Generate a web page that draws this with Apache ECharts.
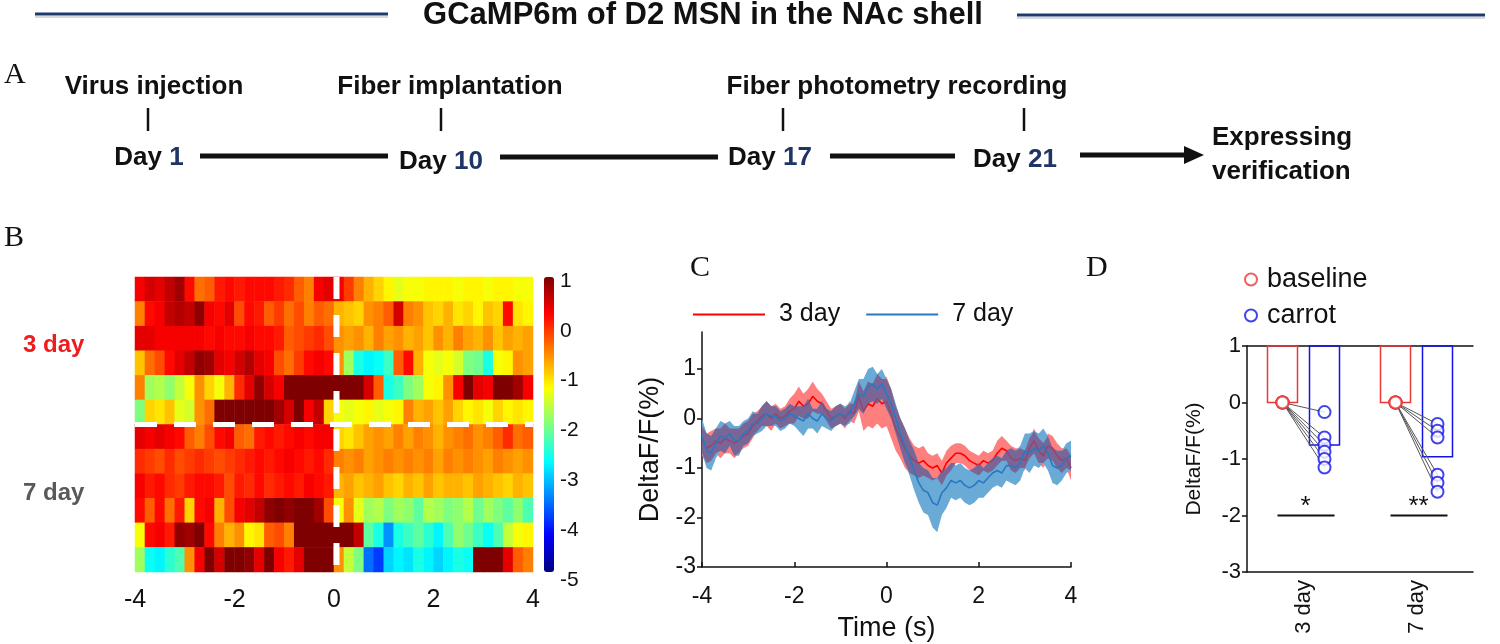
<!DOCTYPE html>
<html><head><meta charset="utf-8">
<script src="https://cdn.jsdelivr.net/npm/echarts@6/dist/echarts.min.js"></script>
<style>html,body{margin:0;padding:0;background:#fff}#main{width:1500px;height:644px}</style>
</head><body><div id="main"></div>
<script>
// ---------------- DATA ----------------
// Panel A timeline
const timelineEvents = ['Virus injection', 'Fiber implantation', 'Fiber photometry recording'];
const timelineDays = [1, 10, 17, 21];

// Panel B heatmap: 40 bins of 0.2 s from -4 s to 4 s, rows = trials
const heatTickLabels = [-4, -2, 0, 2, 4];
const colorbarTicks = [1, 0, -1, -2, -3, -4, -5];
const day3Trial1 = [0.3,0.5,0.4,0.6,0.8,0.2,-0.4,-0.3,0.1,0.2, 0.1,0.2,0.2,0.2,0.1,0.0,-0.3,-0.5,0.3,0.4, 0.3,-0.1,-0.5,-0.8,-1.0,-1.2,-1.4,-1.3,-1.3,-1.2, -1.2,-1.2,-1.3,-1.2,-1.2,-1.3,-1.2,-1.2,-1.3,-1.3];
const day3Trial2 = [-0.5,0.2,0.3,0.6,0.7,0.6,0.9,0.3,0.2,0.4, -0.2,0.2,0.1,-0.3,-0.1,-0.4,-0.2,-0.5,-0.3,-0.4, -0.8,-0.9,-1.0,-0.6,-0.5,-0.3,0.5,-0.5,-0.6,-0.9, -1.0,-0.8,-1.1,-1.0,-1.2,-0.9,-1.0,0.2,-1.1,-1.2];
const day3Trial3 = [0.4,0.4,0.3,0.3,0.3,0.3,0.3,0.2,0.3,0.2, 0.2,0.3,0.2,0.2,0.1,-0.3,-0.2,-0.1,0.0,-0.2, -0.6,-0.7,-0.6,-0.8,-0.5,-0.7,-0.6,-0.8,-0.7,-0.9, -0.6,-0.8,-0.5,-0.7,-0.8,-0.6,-0.9,-0.7,-0.8,-0.7];
const day3Trial4 = [-0.9,-0.4,-0.2,0.2,0.4,0.6,0.9,0.8,0.4,0.3, 0.5,0.7,0.4,0.3,-0.2,-0.4,-0.1,0.2,0.3,0.2, -0.6,-1.8,-2.6,-2.8,-2.7,-2.4,-0.3,0.2,-0.8,-1.3, -1.4,-1.3,-1.5,-2.0,-2.1,-2.6,-1.3,-1.2,-0.6,-0.7];
const day3Trial5 = [-0.5,-1.8,-1.7,-1.9,-1.6,-1.3,-0.6,-1.0,-1.3,-0.8, 0.0,0.4,0.9,0.5,0.3,1.0,1.2,1.2,1.1,1.2, 1.1,1.1,1.1,0.5,-0.3,-2.6,-2.4,-2.0,-1.8,-1.3, -1.2,-0.6,0.3,1.0,0.4,0.3,1.0,1.1,0.8,0.3];
const day3Trial6 = [-2.0,-1.0,-1.1,-0.9,-1.4,-1.5,-0.6,-0.4,1.1,1.2, 1.2,1.1,1.2,1.1,0.8,0.5,1.1,0.3,0.6,-1.0, -1.3,-1.4,-1.3,-1.2,-1.4,-1.3,-1.2,-0.5,-0.8,-0.7, -0.9,-0.7,-1.0,-1.2,-1.1,-1.3,-1.0,-1.2,-1.1,-1.2];
const day7Trial1 = [0.4,0.3,0.4,0.3,0.2,-0.3,-0.5,-0.2,0.2,0.3, -0.3,-0.4,0.1,0.2,0.1,0.2,0.3,0.2,0.3,0.3, -1.0,-1.1,-0.9,-0.7,-0.6,-0.7,-0.5,-0.7,-0.5,-0.6, -0.8,-0.6,-0.5,-0.4,-0.6,-0.5,-0.3,0.0,-0.4,-0.3];
const day7Trial2 = [0.0,-0.1,-0.2,0.0,-0.2,-0.1,0.0,-0.1,-0.2,-0.1, 0.0,0.1,0.2,0.1,0.2,0.3,0.2,0.1,0.2,0.0, -0.5,-0.6,-0.5,-0.7,-0.6,-0.5,-0.6,-0.5,-0.6,-0.5, -0.7,-0.5,-0.6,-0.5,-0.6,-0.7,-0.5,-0.6,-0.7,-0.6];
const day7Trial3 = [0.3,0.1,0.2,0.0,-0.1,0.1,0.2,0.2,0.1,-0.2, 0.1,0.0,0.2,0.0,0.1,0.2,0.1,0.3,0.2,0.1, -0.8,-0.7,-0.9,-0.8,-0.7,-0.9,-1.0,-0.8,-0.9,-0.7, -0.9,-0.8,-0.8,-0.9,-0.7,-0.8,-0.9,-1.0,-0.8,-0.9];
const day7Trial4 = [0.2,-0.3,0.2,-0.4,0.1,-1.0,0.2,0.3,-0.8,-0.2, 0.3,0.4,0.6,0.9,1.0,0.9,1.1,1.0,0.8,-0.2, -1.3,-0.6,-1.4,-1.8,-1.7,-2.0,-1.8,-1.9,-2.2,-1.7, -1.8,-2.0,-1.9,-1.7,-2.1,-1.8,-2.0,-2.2,-1.9,-2.3];
const day7Trial5 = [-1.3,0.2,0.3,0.1,0.9,0.8,1.0,0.2,-0.5,-0.8, -0.6,-1.2,-1.1,-0.3,-0.2,-0.5,1.1,1.2,1.1,1.2, 1.1,1.0,0.6,-2.2,-2.6,-3.4,-2.6,-2.4,-2.2,-2.5, -2.8,-2.3,-1.9,-2.1,-2.4,-2.7,-2.3,-1.6,-1.3,-1.2];
const day7Trial6 = [-1.8,-2.7,-2.8,-2.5,-2.3,-0.6,0.3,1.0,0.5,1.1, 1.2,0.9,0.4,1.0,0.3,0.1,0.4,1.1,1.2,1.1, -0.6,-1.6,-2.0,-3.6,-3.9,-3.0,-2.8,-2.9,-2.6,-2.8, -3.0,-2.8,-2.6,-2.7,1.0,1.1,1.1,0.4,-0.3,-0.5];

// Panel C traces (sampled every 0.1 s from -4 to 4 s)
const traceTime = Array.from({length: 81}, (_, i) => Math.round((-4 + i * 0.1) * 10) / 10);
const mean3day = [-0.45,-0.6,-0.55,-0.45,-0.5,-0.4,-0.45,-0.5,-0.45,-0.35,
  -0.3,-0.15,-0.05,0.05,0.1,0.0,0.1,0.0,0.05,0.15,
  0.2,0.35,0.25,0.3,0.45,0.35,0.3,0.15,0.0,0.05,
  0.1,0.0,0.15,0.1,0.45,0.15,0.3,0.25,0.4,0.3,
  0.35,0.1,-0.2,-0.4,-0.6,-0.75,-0.85,-0.9,-0.85,-0.95,
  -1.0,-0.95,-1.1,-0.9,-0.8,-0.7,-0.7,-0.75,-0.85,-0.9,
  -0.95,-0.85,-0.9,-0.85,-0.7,-0.6,-0.65,-0.8,-0.85,-0.8,
  -0.85,-0.6,-0.45,-0.65,-0.75,-0.55,-0.6,-0.75,-0.85,-0.8,
  -1.0];
const sem3day = [0.3,0.3,0.3,0.25,0.3,0.3,0.25,0.3,0.25,0.25,
  0.25,0.25,0.2,0.2,0.25,0.25,0.2,0.2,0.2,0.25,
  0.3,0.3,0.25,0.3,0.3,0.25,0.2,0.2,0.2,0.2,
  0.2,0.2,0.2,0.2,0.3,0.4,0.45,0.45,0.5,0.5,
  0.5,0.5,0.45,0.4,0.4,0.35,0.3,0.3,0.3,0.25,
  0.25,0.25,0.25,0.25,0.25,0.2,0.2,0.2,0.2,0.2,
  0.2,0.2,0.2,0.2,0.25,0.25,0.2,0.25,0.25,0.2,
  0.2,0.2,0.25,0.25,0.25,0.25,0.25,0.25,0.25,0.2,
  0.25];
const mean7day = [-0.35,-0.65,-0.7,-0.5,-0.35,-0.4,-0.3,-0.45,-0.45,-0.3,
  -0.25,-0.1,-0.1,0.0,0.1,0.05,0.05,-0.05,0.0,0.1,
  0.05,0.0,-0.05,0.1,0.0,-0.05,0.1,0.0,-0.05,0.05,
  0.1,0.05,0.1,0.3,0.5,0.45,0.65,0.7,0.6,0.7,
  0.5,0.3,0.0,-0.3,-0.55,-0.8,-1.05,-1.3,-1.45,-1.5,
  -1.7,-1.75,-1.5,-1.4,-1.25,-1.3,-1.25,-1.35,-1.4,-1.35,
  -1.25,-1.3,-1.2,-1.1,-1.05,-1.1,-0.95,-0.95,-1.0,-0.9,
  -0.65,-0.7,-0.6,-0.65,-0.55,-0.7,-0.95,-1.0,-0.95,-0.8,
  -0.75];
const sem7day = [0.35,0.35,0.35,0.3,0.3,0.3,0.25,0.3,0.3,0.25,
  0.25,0.25,0.2,0.25,0.25,0.2,0.2,0.2,0.2,0.2,
  0.2,0.25,0.3,0.3,0.2,0.25,0.25,0.2,0.2,0.2,
  0.2,0.2,0.2,0.25,0.3,0.35,0.35,0.35,0.3,0.3,
  0.3,0.3,0.3,0.3,0.35,0.35,0.4,0.4,0.45,0.45,
  0.5,0.55,0.45,0.4,0.35,0.35,0.35,0.35,0.35,0.35,
  0.35,0.3,0.3,0.3,0.3,0.3,0.3,0.35,0.35,0.35,
  0.35,0.4,0.35,0.35,0.35,0.35,0.35,0.35,0.3,0.3,
  0.3];

// Panel D
const groups = ['3 day', '7 day'];
const baselineMean = [0, 0];
const carrotMean = [-0.75, -0.96];
const baseline3day = [0, 0, 0, 0, 0, 0];
const carrot3day = [-0.17, -0.62, -0.75, -0.87, -1.0, -1.15];
const baseline7day = [0, 0, 0, 0, 0, 0];
const carrot7day = [-0.38, -0.5, -0.62, -1.28, -1.42, -1.58];
const sigLabels = ['*', '**'];
const sigLevel = [-2, -2];

// ---------------- BUILD ----------------
const heatRows = [day3Trial1, day3Trial2, day3Trial3, day3Trial4, day3Trial5, day3Trial6,
                  day7Trial1, day7Trial2, day7Trial3, day7Trial4, day7Trial5, day7Trial6];
const nCols = day3Trial1.length;
const heatData = [];
heatRows.forEach((row, r) => row.forEach((v, c) => heatData.push([c, r, v])));
const colCats = Array.from({length: nCols}, (_, i) => String(i));
const rowCats = heatRows.map((_, i) => String(i));

const FONT = 'Liberation Sans';
const jet = ['#00007f','#0000ff','#007fff','#00ffff','#7fff7f','#ffff00','#ff7f00','#ff0000','#7f0000'];

function bandPolygon(api, upper, lower) {
  const up = [], lo = [];
  for (let i = 0; i < traceTime.length; i++) {
    up.push(api.coord([traceTime[i], upper[i]]));
    lo.push(api.coord([traceTime[i], lower[i]]));
  }
  return up.concat(lo.reverse());
}
const up3 = mean3day.map((m, i) => m + sem3day[i]), lo3 = mean3day.map((m, i) => m - sem3day[i]);
const up7 = mean7day.map((m, i) => m + sem7day[i]), lo7 = mean7day.map((m, i) => m - sem7day[i]);
const loBoth = lo3.map((v, i) => Math.max(v, lo7[i]));
const upBoth = up3.map((v, i) => Math.max(Math.min(v, up7[i]), loBoth[i]));

function bandRender(upper, lower, color, opacity) {
  return function (params, api) {
    if (params.dataIndex !== 0) return null;
    return { type: 'polygon', shape: { points: bandPolygon(api, upper, lower) },
             style: { fill: color, opacity: opacity } };
  };
}
const dYMax = 1;
function barRender(offset, color) {
  return function (params, api) {
    const top = api.coord([api.value(0), dYMax]);
    const bot = api.coord([api.value(0), api.value(1)]);
    return { type: 'rect', shape: { x: top[0] + offset - 15, y: top[1], width: 30, height: bot[1] - top[1] },
             style: { fill: 'none', stroke: color, lineWidth: 1.5 } };
  };
}
const pairData = [];
baseline3day.forEach((b, i) => pairData.push([0, b, carrot3day[i]]));
baseline7day.forEach((b, i) => pairData.push([1, b, carrot7day[i]]));
const bandData = traceTime.map((t, i) => [t, Math.min(lo3[i], lo7[i]), Math.max(up3[i], up7[i])]);

const option = {
  animation: false,
  backgroundColor: '#fff',
  textStyle: { fontFamily: FONT, color: '#000' },
  grid: [
    { left: 135, top: 277, width: 398, height: 295 },
    { left: 544, top: 281, width: 10, height: 299 },
    { left: 702, top: 332, width: 369, height: 235 },
    { left: 1247, top: 346, width: 226, height: 226 }
  ],
  xAxis: [
    { gridIndex: 0, type: 'category', data: colCats, position: 'top', show: false },
    { gridIndex: 0, type: 'value', min: -4, max: 4, interval: 2, position: 'bottom',
      axisLine: { show: false, onZero: false }, axisTick: { show: false }, splitLine: { show: false },
      axisLabel: { fontSize: 25, color: '#111', margin: 16, customValues: heatTickLabels } },
    { gridIndex: 1, type: 'value', show: false },
    { gridIndex: 2, type: 'value', min: -4, max: 4, interval: 2, position: 'bottom',
      axisLine: { onZero: false, lineStyle: { color: '#111', width: 1.5 } },
      axisTick: { inside: true, length: 5, lineStyle: { color: '#111', width: 1.5 } },
      splitLine: { show: false },
      axisLabel: { fontSize: 23, color: '#111', margin: 18 },
      name: 'Time (s)', nameLocation: 'middle', nameGap: 48, nameTextStyle: { fontSize: 27, color: '#111' } },
    { gridIndex: 3, type: 'category', data: groups, position: 'bottom',
      axisLine: { onZero: false, lineStyle: { color: '#111', width: 1.5 } }, axisTick: { show: false },
      axisLabel: { rotate: 90, fontSize: 22, color: '#111', margin: 8 } },
    { gridIndex: 3, type: 'category', data: groups, position: 'top',
      axisLine: { onZero: false, lineStyle: { color: '#111', width: 1.5 } }, axisTick: { show: false }, axisLabel: { show: false } }
  ],
  yAxis: [
    { gridIndex: 0, type: 'category', data: rowCats, inverse: true, show: false },
    { gridIndex: 0, type: 'value', min: 0, max: heatRows.length, inverse: true, show: false },
    { gridIndex: 1, type: 'value', min: -5, max: 1, interval: 1, position: 'right',
      axisLine: { show: false }, axisTick: { show: false }, splitLine: { show: false },
      axisLabel: { fontSize: 21, color: '#111', margin: 6, customValues: colorbarTicks } },
    { gridIndex: 2, type: 'value', min: -3, max: 1.75, interval: 1,
      axisLine: { show: true, onZero: false, lineStyle: { color: '#111', width: 1.5 } },
      axisTick: { show: true, length: 5, lineStyle: { color: '#111', width: 1.5 }, customValues: [-3, -2, -1, 0, 1] },
      splitLine: { show: false },
      axisLabel: { fontSize: 23, color: '#111', margin: 6, customValues: [-3, -2, -1, 0, 1] },
      name: 'DeltaF/F(%)', nameLocation: 'middle', nameRotate: 90, nameGap: 38,
      nameTextStyle: { fontSize: 27, color: '#111' } },
    { gridIndex: 3, type: 'value', min: -3, max: dYMax, interval: 1,
      axisLine: { show: true, onZero: false, lineStyle: { color: '#111', width: 1.5 } },
      axisTick: { show: true, length: 5, lineStyle: { color: '#111', width: 1.5 } },
      splitLine: { show: false },
      axisLabel: { fontSize: 22, color: '#111', margin: 6 },
      name: 'DeltaF/F(%)', nameLocation: 'middle', nameRotate: 90, nameGap: 42,
      nameTextStyle: { fontSize: 21, color: '#111' } }
  ],
  visualMap: {
    type: 'continuous', seriesIndex: 0, dimension: 2, min: -5, max: 1,
    calculable: false, orient: 'vertical', left: 544, top: 277, itemWidth: 10, itemHeight: 295,
    padding: 0, inRange: { color: jet }
  },
  legend: [
    { data: ['3 day', '7 day'], left: 688, top: 297, icon: 'rect', itemWidth: 72, itemHeight: 2, itemGap: 26,
      textStyle: { fontSize: 25, color: '#111', padding: [0, 0, 0, 9] }, selectedMode: false },
    { data: ['baseline', 'carrot'], orient: 'vertical', left: 1239, top: 261, itemWidth: 12, itemHeight: 12, itemGap: 9,
      textStyle: { fontSize: 27, color: '#111', padding: [0, 0, 0, 5] }, selectedMode: false }
  ],
  series: [
    { type: 'heatmap', xAxisIndex: 0, yAxisIndex: 0, data: heatData, progressive: 0,
      itemStyle: { borderWidth: 0 }, emphasis: { disabled: true } },
    { type: 'line', xAxisIndex: 1, yAxisIndex: 1, data: [[0.05, 0], [0.05, heatRows.length]], symbol: 'none', z: 5,
      lineStyle: { color: '#fff', width: 6, type: [22, 16] }, silent: true },
    { type: 'line', xAxisIndex: 1, yAxisIndex: 1, data: [[-4, 6], [4, 6]], symbol: 'none', z: 5,
      lineStyle: { color: '#fff', width: 5, type: [22, 17] }, silent: true },
    // Panel C: SEM bands, their overlap, and means
    { type: 'custom', xAxisIndex: 3, yAxisIndex: 3, z: 2, clip: true, data: bandData,
      encode: { x: 0, y: [1, 2] }, renderItem: bandRender(up3, lo3, '#ff7f7f', 1), silent: true },
    { type: 'custom', xAxisIndex: 3, yAxisIndex: 3, z: 3, clip: true, data: bandData,
      encode: { x: 0, y: [1, 2] }, renderItem: bandRender(up7, lo7, '#6aaad6', 1), silent: true },
    { type: 'line', name: '3 day', xAxisIndex: 3, yAxisIndex: 3, z: 4, symbol: 'none',
      data: traceTime.map((t, i) => [t, mean3day[i]]), color: '#ff0000', lineStyle: { width: 1.6, color: '#ff0000' } },
    { type: 'custom', xAxisIndex: 3, yAxisIndex: 3, z: 5, clip: true, data: bandData,
      encode: { x: 0, y: [1, 2] }, renderItem: bandRender(upBoth, loBoth, '#7d5787', 0.82), silent: true },
    { type: 'line', name: '7 day', xAxisIndex: 3, yAxisIndex: 3, z: 6, symbol: 'none',
      data: traceTime.map((t, i) => [t, mean7day[i]]), color: '#2b78c2', lineStyle: { width: 1.6, color: '#2b78c2' } },
    // Panel D
    { type: 'custom', xAxisIndex: 4, yAxisIndex: 4, z: 2, data: groups.map((g, i) => [i, baselineMean[i]]),
      renderItem: barRender(-21, '#e8393a'), silent: true },
    { type: 'custom', xAxisIndex: 4, yAxisIndex: 4, z: 2, data: groups.map((g, i) => [i, carrotMean[i]]),
      renderItem: barRender(21, '#1414e6'), silent: true },
    { type: 'custom', xAxisIndex: 4, yAxisIndex: 4, z: 3, data: pairData, silent: true,
      renderItem: function (params, api) {
        const a = api.coord([api.value(0), api.value(1)]);
        const b = api.coord([api.value(0), api.value(2)]);
        return { type: 'line', shape: { x1: a[0] - 21, y1: a[1], x2: b[0] + 21, y2: b[1] },
                 style: { stroke: '#555', lineWidth: 1 } };
      } },
    { type: 'scatter', name: 'baseline', xAxisIndex: 4, yAxisIndex: 4, z: 4, symbol: 'emptyCircle', symbolSize: 12,
      symbolOffset: [-21, 0], color: '#e8393a', itemStyle: { color: '#e8393a', borderWidth: 1.6 },
      data: baseline3day.map(v => [0, v]).concat(baseline7day.map(v => [1, v])) },
    { type: 'scatter', name: 'carrot', xAxisIndex: 4, yAxisIndex: 4, z: 4, symbol: 'emptyCircle', symbolSize: 12,
      symbolOffset: [21, 0], color: '#1414e6', itemStyle: { color: '#1414e6', borderWidth: 1.6 },
      data: carrot3day.map(v => [0, v]).concat(carrot7day.map(v => [1, v])) },
    { type: 'custom', xAxisIndex: 4, yAxisIndex: 4, z: 4, silent: true,
      data: groups.map((g, i) => [i, sigLevel[i]]),
      renderItem: function (params, api) {
        const c = api.coord([api.value(0), api.value(1)]);
        return { type: 'group', children: [
          { type: 'line', shape: { x1: c[0] - 26, y1: c[1], x2: c[0] + 31, y2: c[1] }, style: { stroke: '#111', lineWidth: 2 } },
          { type: 'text', x: c[0] + 2, y: c[1] + 4,
            style: { text: sigLabels[params.dataIndex], font: '26px ' + FONT, fill: '#111', align: 'center', verticalAlign: 'bottom' } }
        ] };
      } }
  ],
  graphic: [
    // title
    { type: 'line', shape: { x1: 35, y1: 14, x2: 388, y2: 14 }, style: { stroke: '#1f3a6e', lineWidth: 3 } },
    { type: 'line', shape: { x1: 35, y1: 17, x2: 388, y2: 17 }, style: { stroke: '#d7d9de', lineWidth: 2 } },
    { type: 'line', shape: { x1: 1017, y1: 15, x2: 1485, y2: 15 }, style: { stroke: '#1f3a6e', lineWidth: 3 } },
    { type: 'line', shape: { x1: 1017, y1: 18, x2: 1485, y2: 18 }, style: { stroke: '#d7d9de', lineWidth: 2 } },
    { type: 'text', x: 703, y: 15, style: { text: 'GCaMP6m of D2 MSN in the NAc shell', font: 'bold 31px ' + FONT, fill: '#111', align: 'center', verticalAlign: 'middle' } },
    // panel letters
    { type: 'text', x: 4, y: 75, style: { text: 'A', font: '30px "Liberation Serif"', fill: '#111', verticalAlign: 'middle' } },
    { type: 'text', x: 4, y: 238, style: { text: 'B', font: '30px "Liberation Serif"', fill: '#111', verticalAlign: 'middle' } },
    { type: 'text', x: 690, y: 268, style: { text: 'C', font: '30px "Liberation Serif"', fill: '#111', verticalAlign: 'middle' } },
    { type: 'text', x: 1086, y: 268, style: { text: 'D', font: '30px "Liberation Serif"', fill: '#111', verticalAlign: 'middle' } },
    // timeline labels
    { type: 'text', x: 154, y: 87, style: { text: timelineEvents[0], font: 'bold 26px ' + FONT, fill: '#111', align: 'center', verticalAlign: 'middle' } },
    { type: 'text', x: 450, y: 87, style: { text: timelineEvents[1], font: 'bold 26px ' + FONT, fill: '#111', align: 'center', verticalAlign: 'middle' } },
    { type: 'text', x: 897, y: 87, style: { text: timelineEvents[2], font: 'bold 26px ' + FONT, fill: '#111', align: 'center', verticalAlign: 'middle' } },
    { type: 'line', shape: { x1: 148, y1: 108, x2: 148, y2: 131 }, style: { stroke: '#111', lineWidth: 2.5 } },
    { type: 'line', shape: { x1: 441, y1: 108, x2: 441, y2: 131 }, style: { stroke: '#111', lineWidth: 2.5 } },
    { type: 'line', shape: { x1: 783, y1: 108, x2: 783, y2: 131 }, style: { stroke: '#111', lineWidth: 2.5 } },
    { type: 'line', shape: { x1: 1024, y1: 108, x2: 1024, y2: 131 }, style: { stroke: '#111', lineWidth: 2.5 } },
    { type: 'text', x: 149, y: 158, style: { text: '{a|Day }{b|' + timelineDays[0] + '}', rich: { a: { font: 'bold 26px ' + FONT, fill: '#111' }, b: { font: 'bold 26px ' + FONT, fill: '#1f3566' } }, align: 'center', verticalAlign: 'middle' } },
    { type: 'text', x: 441, y: 162, style: { text: '{a|Day }{b|' + timelineDays[1] + '}', rich: { a: { font: 'bold 26px ' + FONT, fill: '#111' }, b: { font: 'bold 26px ' + FONT, fill: '#1f3566' } }, align: 'center', verticalAlign: 'middle' } },
    { type: 'text', x: 770, y: 158, style: { text: '{a|Day }{b|' + timelineDays[2] + '}', rich: { a: { font: 'bold 26px ' + FONT, fill: '#111' }, b: { font: 'bold 26px ' + FONT, fill: '#1f3566' } }, align: 'center', verticalAlign: 'middle' } },
    { type: 'text', x: 1015, y: 160, style: { text: '{a|Day }{b|' + timelineDays[3] + '}', rich: { a: { font: 'bold 26px ' + FONT, fill: '#111' }, b: { font: 'bold 26px ' + FONT, fill: '#1f3566' } }, align: 'center', verticalAlign: 'middle' } },
    { type: 'line', shape: { x1: 200, y1: 156, x2: 388, y2: 156 }, style: { stroke: '#111', lineWidth: 5 } },
    { type: 'line', shape: { x1: 500, y1: 157, x2: 718, y2: 157 }, style: { stroke: '#111', lineWidth: 5 } },
    { type: 'line', shape: { x1: 830, y1: 156, x2: 955, y2: 156 }, style: { stroke: '#111', lineWidth: 5 } },
    { type: 'line', shape: { x1: 1080, y1: 155, x2: 1188, y2: 155 }, style: { stroke: '#111', lineWidth: 5 } },
    { type: 'polygon', shape: { points: [[1184, 146], [1204, 155], [1184, 164]] }, style: { fill: '#111' } },
    { type: 'text', x: 1212, y: 138, style: { text: 'Expressing', font: 'bold 26px ' + FONT, fill: '#111', verticalAlign: 'middle' } },
    { type: 'text', x: 1212, y: 172, style: { text: 'verification', font: 'bold 26px ' + FONT, fill: '#111', verticalAlign: 'middle' } },
    // heatmap row group labels
    { type: 'text', x: 23, y: 345, style: { text: '3 day', font: 'bold 24px ' + FONT, fill: '#ee1c1c', verticalAlign: 'middle' } },
    { type: 'text', x: 23, y: 493, style: { text: '7 day', font: 'bold 24px ' + FONT, fill: '#595959', verticalAlign: 'middle' } }
  ]
};
const chart = echarts.init(document.getElementById('main'), null, { renderer: 'canvas' });
chart.setOption(option);
</script></body></html>
